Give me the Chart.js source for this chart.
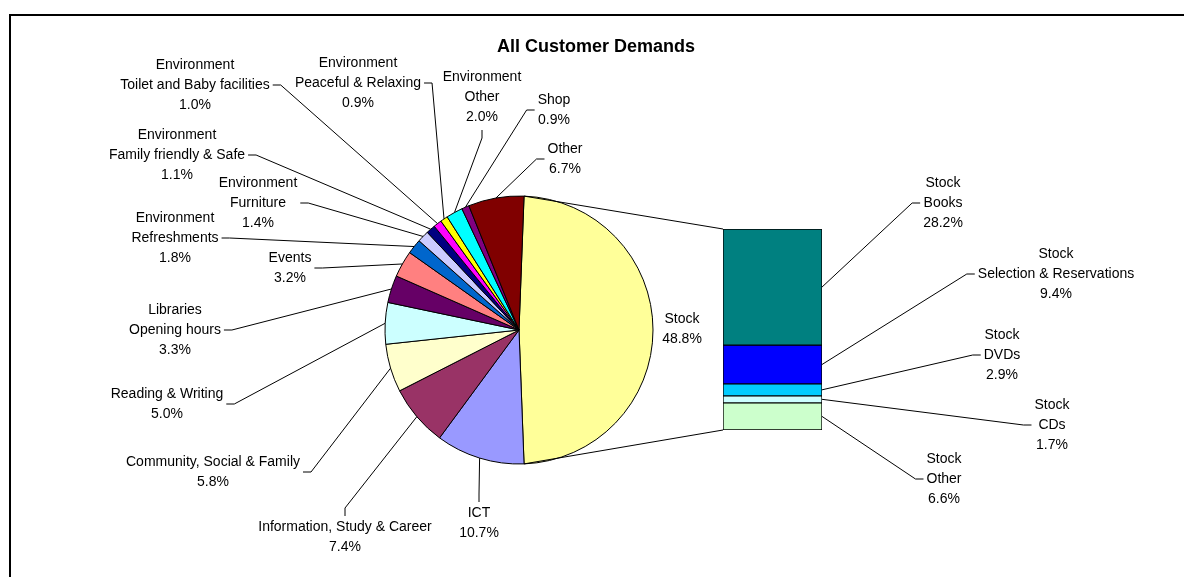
<!DOCTYPE html>
<html>
<head>
<meta charset="utf-8">
<title>All Customer Demands</title>
<script src="https://cdn.jsdelivr.net/npm/chart.js@4.4.1/dist/chart.umd.min.js"></script>
<style>
  html, body { margin: 0; padding: 0; background: #fff; overflow: hidden; }
  #wrap { position: relative; width: 1184px; height: 577px; }
  #frame { position: absolute; left: 9px; top: 14px; width: 1300px; height: 700px;
           border-left: 2px solid #000; border-top: 2px solid #000; }
  canvas { position: absolute; left: 0; top: 0; }
</style>
</head>
<body>
<div id="wrap">
  <div id="frame"></div>
  <canvas id="pieCanvas" width="1184" height="577"></canvas>
  <canvas id="barCanvas" width="1184" height="577"></canvas>
</div>
<script>
// main pie: demand categories (percent of all demands)
var pieCategories = [
  'Stock', 'ICT', 'Information, Study & Career', 'Community, Social & Family',
  'Reading & Writing', 'Libraries\nOpening hours', 'Events', 'Environment\nRefreshments',
  'Environment\nFurniture', 'Environment\nFamily friendly & Safe',
  'Environment\nToilet and Baby facilities', 'Environment\nPeaceful & Relaxing',
  'Environment\nOther', 'Shop', 'Other'
];
var pieValues = [48.8, 10.7, 7.4, 5.8, 5.0, 3.3, 3.2, 1.8, 1.4, 1.1, 1.0, 0.9, 2.0, 0.9, 6.7];
var pieColors = [
  '#FFFF99', '#9999FF', '#993366', '#FFFFCC', '#CCFFFF', '#660066', '#FF8080', '#0066CC',
  '#CCCCFF', '#000080', '#FF00FF', '#FFFF00', '#00FFFF', '#800080', '#800000'
];

// breakdown of the Stock slice, top to bottom
var stockCategories = ['Stock\nBooks', 'Stock\nSelection & Reservations', 'Stock\nDVDs', 'Stock\nCDs', 'Stock\nOther'];
var stockValues = [28.2, 9.4, 2.9, 1.7, 6.6];
var stockColors = ['#008080', '#0000FF', '#00CCFF', '#CCFFFF', '#CCFFCC'];

// label block centres and the side the leader line leaves from
var pieLabelSpots = [
  [682, 329, ''], [479, 523, 'top'], [345, 537, 'top'], [213, 472, 'right'],
  [167, 404, 'right'], [175, 330, 'right'], [290, 268, 'right'], [175, 238, 'right'],
  [258, 203, 'right'], [177, 155, 'right'], [195, 85, 'right'], [358, 83, 'right'],
  [482, 97, 'bottom'], [554, 110, 'left'], [565, 159, 'left']
];
var stockLabelSpots = [[943, 203, 'left'], [1056, 274, 'left'], [1002, 355, 'left'], [1052, 425, 'left'], [944, 479, 'left']];

var W = 1184, H = 577;
var PIE_X = 519, PIE_Y = 330, PIE_R = 134;
var BAR_L = 723, BAR_R = 822, BAR_T = 229, BAR_B = 430;
var FONT = '14px "Liberation Sans", Arial, sans-serif';
var LINE_H = 20;

function pct(v) { return v.toFixed(1) + '%'; }

// draws a multi-line label and its leader line to (px, py)
function drawLabel(ctx, text, spot, px, py) {
  var lines = text.split('\n');
  var cx = spot[0], cy = spot[1], side = spot[2];
  var w = 0;
  lines.forEach(function(l) { w = Math.max(w, ctx.measureText(l).width); });
  var h = lines.length * LINE_H;
  var top = cy - (lines.length - 1) * LINE_H / 2;
  lines.forEach(function(l, i) { ctx.fillText(l, cx, top + i * LINE_H); });

  if (!side) return;
  var sx, sy, kx, ky;
  if (side == 'right') { sx = cx + w / 2 + 3; sy = cy; kx = sx + 8; ky = sy; }
  if (side == 'left') { sx = cx - w / 2 - 3; sy = cy; kx = sx - 8; ky = sy; }
  if (side == 'top') { sx = cx; sy = cy - h / 2 - 1; kx = sx; ky = sy - 8; }
  if (side == 'bottom') { sx = cx; sy = cy + h / 2 + 3; kx = sx; ky = sy + 8; }
  ctx.beginPath();
  ctx.moveTo(sx, sy);
  ctx.lineTo(kx, ky);
  ctx.lineTo(px, py);
  ctx.stroke();
}

function setupText(ctx) {
  ctx.font = FONT;
  ctx.fillStyle = '#000';
  ctx.strokeStyle = '#000';
  ctx.lineWidth = 1;
  ctx.textAlign = 'center';
  ctx.textBaseline = 'middle';
}

var pieLabels = {
  id: 'pieLabels',
  afterDatasetsDraw: function(chart) {
    var ctx = chart.ctx;
    var arcs = chart.getDatasetMeta(0).data;
    ctx.save();
    setupText(ctx);
    arcs.forEach(function(arc, i) {
      var mid = (arc.startAngle + arc.endAngle) / 2;
      var px = arc.x + arc.outerRadius * Math.cos(mid);
      var py = arc.y + arc.outerRadius * Math.sin(mid);
      drawLabel(ctx, pieCategories[i] + '\n' + pct(pieValues[i]), pieLabelSpots[i], px, py);
    });
    ctx.font = 'bold 18px "Liberation Sans", Arial, sans-serif';
    ctx.fillText('All Customer Demands', 596, 47);
    ctx.restore();
  }
};

var pieChart = new Chart(document.getElementById('pieCanvas'), {
  type: 'pie',
  data: {
    labels: pieCategories,
    datasets: [{
      data: pieValues,
      backgroundColor: pieColors,
      borderColor: '#000',
      borderWidth: 1
    }]
  },
  options: {
    responsive: false,
    animation: false,
    events: [],
    radius: PIE_R,
    rotation: 90 - pieValues[0] * 3.6 / 2,
    layout: { padding: { left: PIE_X - 150, right: W - PIE_X - 150, top: PIE_Y - 150, bottom: H - PIE_Y - 150 } },
    plugins: { legend: { display: false }, tooltip: { enabled: false } }
  },
  plugins: [pieLabels]
});

var barLabels = {
  id: 'barLabels',
  afterDatasetsDraw: function(chart) {
    var ctx = chart.ctx;
    ctx.save();
    setupText(ctx);

    // lines joining the Stock slice to the stacked bar
    var stockArc = pieChart.getDatasetMeta(0).data[0];
    var topBar = chart.getDatasetMeta(0).data[0];
    var lastBar = chart.getDatasetMeta(stockValues.length - 1).data[0];
    var left = topBar.x - topBar.width / 2;
    ctx.beginPath();
    ctx.moveTo(stockArc.x + stockArc.outerRadius * Math.cos(stockArc.startAngle),
               stockArc.y + stockArc.outerRadius * Math.sin(stockArc.startAngle));
    ctx.lineTo(left, Math.min(topBar.y, topBar.base));
    ctx.moveTo(stockArc.x + stockArc.outerRadius * Math.cos(stockArc.endAngle),
               stockArc.y + stockArc.outerRadius * Math.sin(stockArc.endAngle));
    ctx.lineTo(left, Math.max(lastBar.y, lastBar.base));
    ctx.stroke();

    for (var i = 0; i < stockValues.length; i++) {
      var bar = chart.getDatasetMeta(i).data[0];
      var px = bar.x + bar.width / 2;
      var py = (bar.y + bar.base) / 2;
      drawLabel(ctx, stockCategories[i] + '\n' + pct(stockValues[i]), stockLabelSpots[i], px, py);
    }
    ctx.restore();
  }
};

var stockTotal = stockValues.reduce(function(a, b) { return a + b; }, 0);

var barChart = new Chart(document.getElementById('barCanvas'), {
  type: 'bar',
  data: {
    labels: ['Stock'],
    datasets: stockValues.map(function(v, i) {
      return {
        label: stockCategories[i],
        data: [v],
        backgroundColor: stockColors[i],
        borderColor: '#000',
        borderWidth: 1,
        borderSkipped: false,
        barPercentage: 1,
        categoryPercentage: 1
      };
    })
  },
  options: {
    responsive: false,
    animation: false,
    events: [],
    layout: { padding: { left: BAR_L, right: W - BAR_R, top: BAR_T, bottom: H - BAR_B } },
    scales: {
      x: { display: false, stacked: true },
      y: { display: false, stacked: true, reverse: true, min: 0, max: stockTotal }
    },
    plugins: { legend: { display: false }, tooltip: { enabled: false } }
  },
  plugins: [barLabels]
});
</script>
</body>
</html>
